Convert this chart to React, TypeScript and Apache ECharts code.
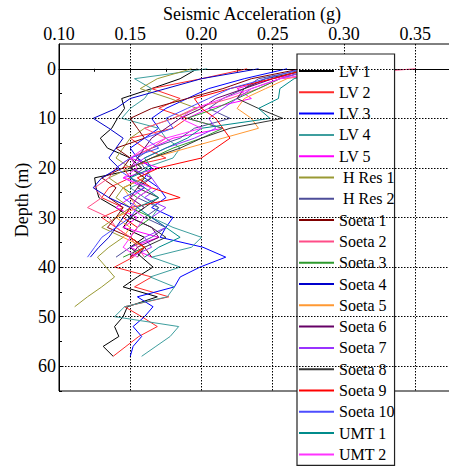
import React, { useEffect, useRef } from "react";
import * as echarts from "echarts";

// Depth sampling (m) of the profiles
const depthsShallow = [0, 2, 4, 6, 8, 10, 12, 14, 16, 18, 20, 22, 24, 26, 28, 30, 32, 34, 36, 38];
const depthsMid = [0, 2, 4, 6, 8, 10, 12, 14, 16, 18, 20, 22, 24, 26, 28, 30, 32, 34, 36, 38, 40, 42, 44, 46, 48];
const depthsDeep = [0, 2, 4, 6, 8, 10, 12, 14, 16, 18, 20, 22, 24, 26, 28, 30, 32, 34, 36, 38, 40, 42, 44, 46, 48, 50, 52, 54, 56, 58];

// Peak seismic acceleration (g) at each depth
const lv1 = [0.197, 0.185, 0.165, 0.144, 0.146, 0.141, 0.137, 0.129, 0.134, 0.150, 0.158, 0.125, 0.126, 0.128, 0.140, 0.150, 0.145, 0.160, 0.150, 0.158, 0.166, 0.155, 0.145, 0.169, 0.148, 0.145, 0.139, 0.142, 0.131, 0.138];
const lv2 = [0.232, 0.200, 0.165, 0.185, 0.170, 0.190, 0.180, 0.150, 0.160, 0.175, 0.145, 0.150, 0.135, 0.130, 0.145, 0.130, 0.140, 0.150, 0.160, 0.152, 0.139, 0.165, 0.153, 0.177, 0.146, 0.158, 0.169, 0.156, 0.147, 0.138];
const lv3 = [0.260, 0.230, 0.205, 0.190, 0.175, 0.165, 0.170, 0.160, 0.150, 0.155, 0.165, 0.160, 0.170, 0.175, 0.165, 0.180, 0.175, 0.171, 0.201, 0.217, 0.199, 0.185, 0.181, 0.155, 0.166, 0.160, 0.152, 0.158, 0.152, 0.150];
const lv4 = [0.204, 0.153, 0.165, 0.160, 0.150, 0.144, 0.170, 0.175, 0.185, 0.180, 0.160, 0.165, 0.150, 0.160, 0.170, 0.165, 0.180, 0.200, 0.193, 0.165, 0.185, 0.164, 0.181, 0.176, 0.146, 0.139, 0.184, 0.178, 0.168, 0.158];
const lv5 = [0.285, 0.250, 0.225, 0.235, 0.205, 0.190, 0.215, 0.180, 0.165, 0.150, 0.170, 0.145, 0.160, 0.150, 0.140, 0.155, 0.145, 0.170, 0.150, 0.165];
const hRes1 = [0.193, 0.169, 0.157, 0.178, 0.197, 0.180, 0.160, 0.150, 0.145, 0.140, 0.150, 0.135, 0.145, 0.140, 0.150, 0.140, 0.130, 0.145, 0.135, 0.127, 0.133, 0.139, 0.130, 0.120, 0.111];
const hRes2 = [0.275, 0.240, 0.230, 0.215, 0.205, 0.220, 0.195, 0.185, 0.165, 0.155, 0.160, 0.150, 0.165, 0.155, 0.170, 0.160, 0.175, 0.165, 0.150, 0.140];
const soeta1 = [0.270, 0.235, 0.215, 0.190, 0.165, 0.150, 0.155, 0.160, 0.140, 0.150, 0.145, 0.130, 0.140, 0.135, 0.145, 0.140, 0.134, 0.150, 0.160, 0.165];
const soeta2 = [0.350, 0.255, 0.240, 0.220, 0.195, 0.180, 0.160, 0.175, 0.165, 0.150, 0.140, 0.135, 0.125, 0.130, 0.120, 0.135, 0.140, 0.150, 0.155, 0.160];
const soeta3 = [0.280, 0.255, 0.240, 0.225, 0.210, 0.190, 0.215, 0.200, 0.180, 0.165, 0.150, 0.160, 0.145, 0.155, 0.150, 0.165, 0.155, 0.150, 0.160, 0.145];
const soeta4 = [0.240, 0.200, 0.175, 0.150, 0.140, 0.124, 0.135, 0.145, 0.140, 0.135, 0.142, 0.130, 0.124, 0.135, 0.150, 0.145, 0.140, 0.135, 0.128, 0.122];
const soeta5 = [0.285, 0.260, 0.245, 0.230, 0.225, 0.235, 0.240, 0.215, 0.190, 0.165, 0.150, 0.160, 0.145, 0.150, 0.155, 0.140, 0.150, 0.145, 0.160, 0.150];
const soeta6 = [0.275, 0.250, 0.230, 0.210, 0.200, 0.185, 0.175, 0.165, 0.160, 0.155, 0.150, 0.165, 0.155, 0.150, 0.160, 0.150, 0.165, 0.170, 0.155, 0.150];
const soeta7 = [0.280, 0.255, 0.235, 0.225, 0.215, 0.205, 0.210, 0.195, 0.175, 0.160, 0.150, 0.165, 0.170, 0.160, 0.175, 0.165, 0.175, 0.160, 0.165, 0.150];
const soeta8 = [0.280, 0.245, 0.230, 0.225, 0.240, 0.257, 0.220, 0.200, 0.185, 0.165, 0.150, 0.160, 0.155, 0.170, 0.160, 0.150, 0.165, 0.175, 0.160, 0.155];
const soeta9 = [0.275, 0.250, 0.220, 0.195, 0.200, 0.210, 0.215, 0.220, 0.210, 0.200, 0.170, 0.155, 0.165, 0.185, 0.150, 0.145, 0.155, 0.150, 0.160, 0.150];
const soeta10 = [0.270, 0.245, 0.220, 0.205, 0.190, 0.175, 0.180, 0.160, 0.170, 0.150, 0.140, 0.150, 0.160, 0.145, 0.155, 0.150, 0.140, 0.130, 0.125, 0.120];
const umt1 = [0.290, 0.265, 0.255, 0.254, 0.240, 0.248, 0.200, 0.190, 0.175, 0.160, 0.165, 0.150, 0.160, 0.170, 0.155, 0.165, 0.175, 0.185, 0.170, 0.160];
const umt2 = [0.300, 0.255, 0.235, 0.215, 0.195, 0.185, 0.200, 0.175, 0.160, 0.150, 0.155, 0.145, 0.165, 0.155, 0.150, 0.160, 0.155, 0.150, 0.145, 0.155];

const seriesNames = [
  "LV 1", "LV 2", "LV 3", "LV 4", "LV 5", "H Res 1", "H Res 2",
  "Soeta 1", "Soeta 2", "Soeta 3", "Soeta 4", "Soeta 5", "Soeta 6",
  "Soeta 7", "Soeta 8", "Soeta 9", "Soeta 10", "UMT 1", "UMT 2",
];
const seriesValues = [
  lv1, lv2, lv3, lv4, lv5, hRes1, hRes2,
  soeta1, soeta2, soeta3, soeta4, soeta5, soeta6,
  soeta7, soeta8, soeta9, soeta10, umt1, umt2,
];
const seriesDepths = [
  depthsDeep, depthsDeep, depthsDeep, depthsDeep, depthsShallow, depthsMid, depthsShallow,
  depthsShallow, depthsShallow, depthsShallow, depthsShallow, depthsShallow, depthsShallow,
  depthsShallow, depthsShallow, depthsShallow, depthsShallow, depthsShallow, depthsShallow,
];
const seriesColors = [
  "#000000", "#ff2a2a", "#0000ff", "#3d9e9e", "#ff00ff", "#999933", "#4d4d99",
  "#800000", "#ff4d88", "#2e9a2e", "#0000cc", "#ff9933", "#660066",
  "#9933ff", "#333333", "#ff0000", "#4d4dff", "#008b8b", "#ff33ff",
];

const accelLabels = [0.1, 0.15, 0.2, 0.25, 0.3, 0.35];
const depthGridLines = [0, 10, 20, 30, 40, 50, 60];
const depthLabels = [0, 10, 20, 30, 40, 50, 60];
const depthTicks = [0, 5, 10, 15, 20, 25, 30, 35, 40, 45, 50, 55, 60, 65];

const FONT = "Liberation Serif";

export default function App() {
  const ref = useRef<HTMLDivElement>(null);

  useEffect(() => {
    if (!ref.current) return;
    const chart = echarts.init(ref.current, undefined, { renderer: "svg" });

    const profileSeries = seriesNames.map((name, i) => ({
      type: "line",
      name,
      symbol: "none",
      z: 2,
      lineStyle: { width: 1, color: seriesColors[i] },
      itemStyle: { color: seriesColors[i] },
      data: seriesValues[i].map((v, k) => [v, seriesDepths[i][k]]),
    }));

    chart.setOption({
      animation: false,
      backgroundColor: "#fff",
      grid: {
        left: 59,
        top: 44,
        right: -37.5,
        bottom: 77,
        containLabel: false,
        outerBoundsMode: "none",
        show: true,
        borderColor: "#000",
        borderWidth: 1,
        backgroundColor: "transparent",
      },
      xAxis: {
        type: "value",
        position: "top",
        min: 0.1,
        max: 0.4,
        interval: 0.05,
        axisLine: { show: true, lineStyle: { color: "#000", width: 1 } },
        axisTick: { show: true, inside: true, length: 4, lineStyle: { color: "#000" } },
        minorTick: { show: true, splitNumber: 2, length: 3, lineStyle: { color: "#000" } },
        axisLabel: {
          customValues: accelLabels,
          formatter: (v: number) => v.toFixed(2),
          fontFamily: FONT,
          fontSize: 18,
          lineHeight: 18,
          color: "#000",
          margin: 1,
        },
        splitLine: { show: true, lineStyle: { color: "#000", width: 1, type: [1.5, 1.5] } },
      },
      yAxis: {
        type: "value",
        inverse: true,
        min: -5,
        max: 65,
        axisLine: { show: true, lineStyle: { color: "#000", width: 1 } },
        axisTick: { show: true, inside: true, length: 3, customValues: depthTicks, lineStyle: { color: "#000" } },
        axisLabel: {
          customValues: depthLabels,
          fontFamily: FONT,
          fontSize: 18,
          color: "#000",
          margin: 3,
        },
        splitLine: { show: false },
      },
      legend: {
        data: seriesNames,
        orient: "vertical",
        left: 297,
        top: 54,
        padding: [9, 0, 3, 2],
        icon: "rect",
        itemWidth: 35,
        itemHeight: 2,
        itemGap: 5.3,
        backgroundColor: "#fff",
        borderColor: "#222",
        borderWidth: 1.2,
        textStyle: { fontFamily: FONT, fontSize: 16, color: "#000", lineHeight: 16 },
        formatter: (name: string) => (name.startsWith("H ") ? "\u00a0" + name : name),
      },
      graphic: [
        {
          type: "text",
          x: 252,
          y: 14,
          style: {
            text: "Seismic Acceleration (g)",
            fontFamily: FONT,
            fontSize: 18,
            fill: "#000",
            textAlign: "center",
            textVerticalAlign: "middle",
          },
        },
        {
          type: "text",
          x: 22,
          y: 200,
          rotation: Math.PI / 2,
          style: {
            text: "Depth (m)",
            fontFamily: FONT,
            fontSize: 18,
            fill: "#000",
            textAlign: "center",
            textVerticalAlign: "middle",
          },
        },
      ],
      series: [
        {
          type: "line",
          name: "depth grid",
          data: [],
          z: 1,
          silent: true,
          markLine: {
            silent: true,
            symbol: ["none", "none"],
            label: { show: false },
            lineStyle: { color: "#000", width: 1, type: [1.5, 1.5] },
            data: depthGridLines.map((d) => ({ yAxis: d })),
          },
        },
        ...profileSeries,
      ],
    });

    return () => chart.dispose();
  }, []);

  return (
    <div
      ref={ref}
      style={{ position: "absolute", left: 0, top: 0, width: 449, height: 468 }}
    />
  );
}
